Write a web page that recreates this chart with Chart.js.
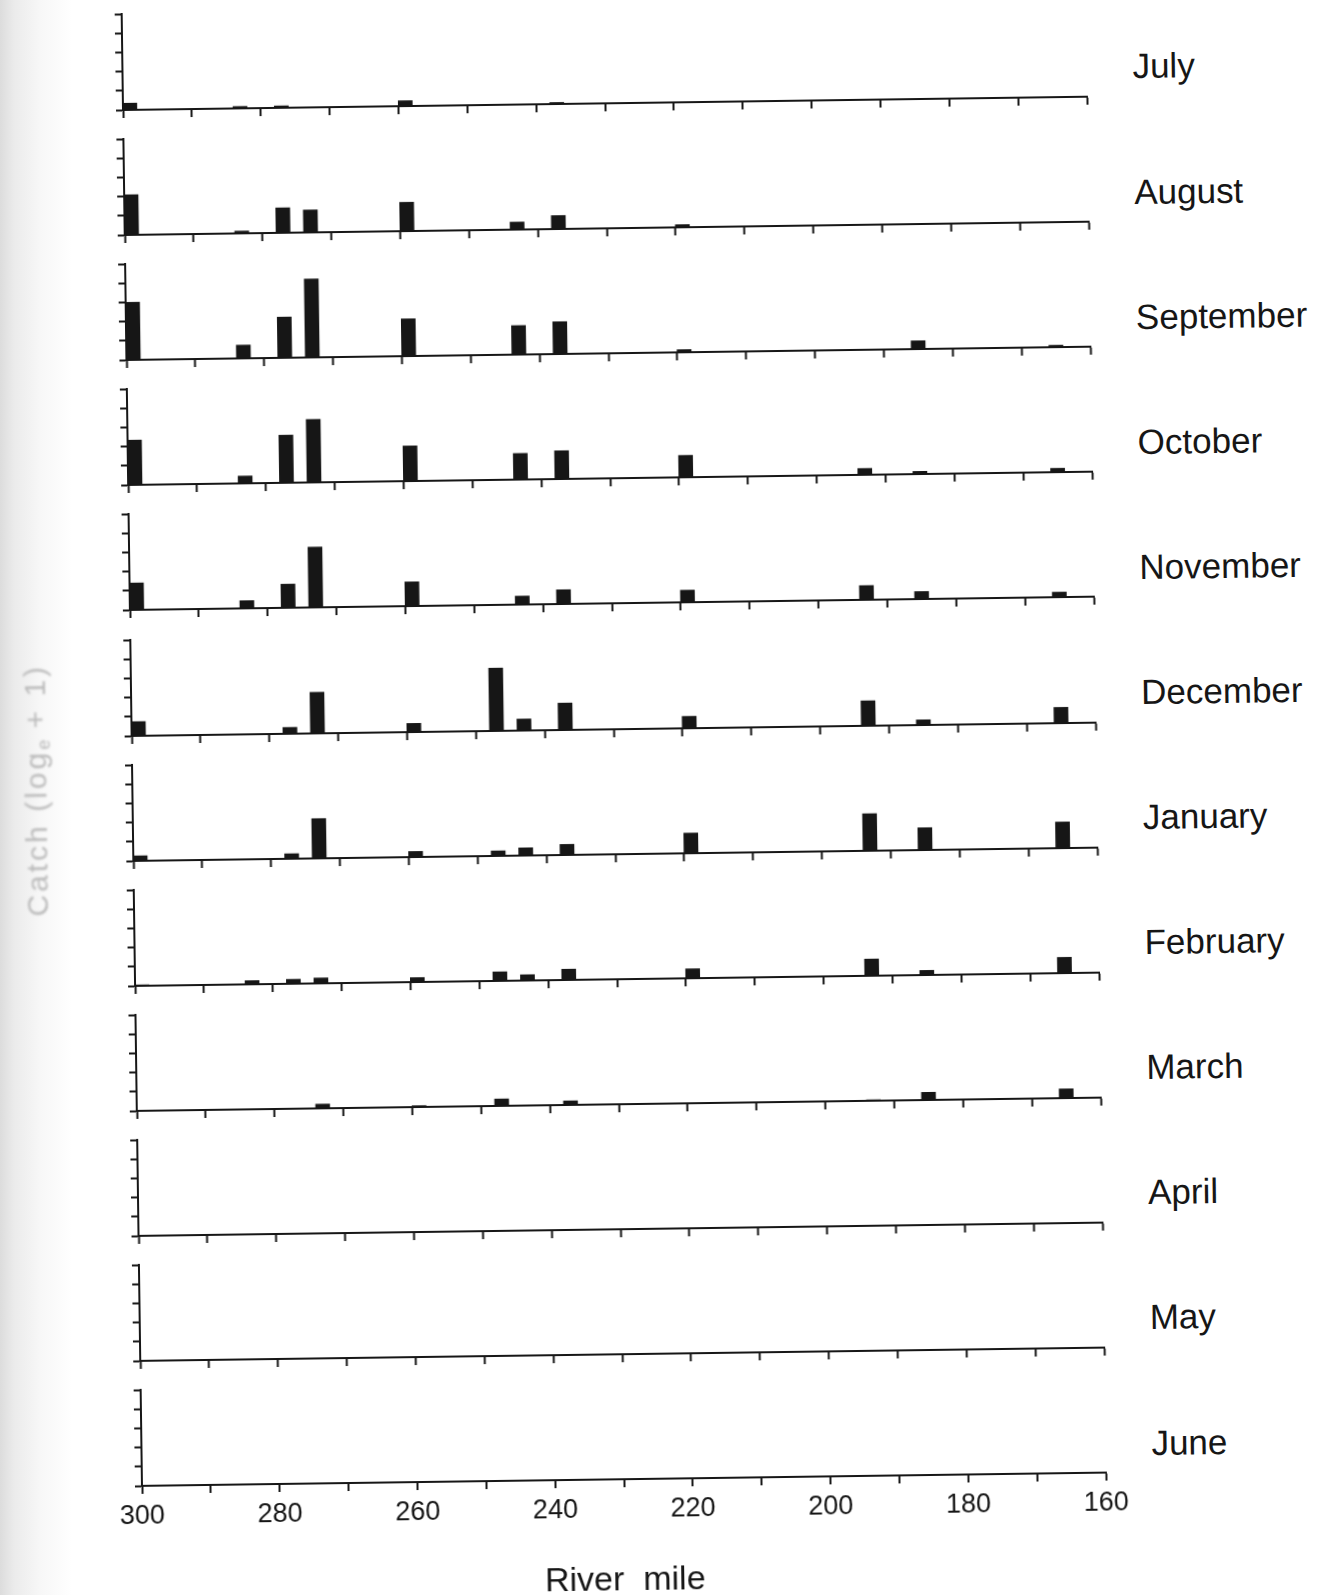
<!DOCTYPE html>
<html>
<head>
<meta charset="utf-8">
<script src="https://cdn.jsdelivr.net/npm/chart.js@4.4.1/dist/chart.umd.min.js"></script>
<style>
  html, body { margin: 0; padding: 0; }
  body {
    width: 1323px; height: 1595px; position: relative; overflow: hidden;
    background: linear-gradient(to right, #dcdcdc 0px, #ebebeb 14px, #f7f7f7 40px, #ffffff 72px);
  }
  #sheet {
    position: absolute; left: 0; top: 0; width: 1323px; height: 1595px;
    transform-origin: 123px 110px; transform: rotate(-0.79deg);
  }
  #sheet canvas { position: absolute; }
  .month {
    position: absolute; white-space: nowrap; color: #161616;
    font-family: 'Liberation Sans', Arial, sans-serif; font-size: 35px; line-height: 35px;
  }
  #ytitle {
    position: absolute; width: 320px; height: 40px; line-height: 40px; text-align: center;
    transform: rotate(-90deg); white-space: nowrap;
    font-family: 'Liberation Sans', Arial, sans-serif; font-size: 30px; letter-spacing: 3px;
    color: #bababa; filter: blur(0.8px);
  }
  #ytitle sub { font-size: 60%; vertical-align: -4px; letter-spacing: 0; }
</style>
</head>
<body>
<div id="sheet">
  <div id="ytitle">Catch (log<sub>e</sub> + 1)</div>
</div>
<script>
// Sampling stations along the river (river mile)
const riverMiles = [299, 283, 277, 273, 259, 247, 243, 237, 219, 193, 185, 165];

const monthNames = ['July', 'August', 'September', 'October', 'November', 'December',
                    'January', 'February', 'March', 'April', 'May', 'June'];

// Catch (log_e + 1) at each station, one array per month
const catchJuly      = [0.35, 0.10, 0.10, 0.00, 0.28, 0.00, 0.00, 0.08, 0.00, 0.00, 0.00, 0.00];
const catchAugust    = [2.09, 0.12, 1.30, 1.17, 1.50, 0.00, 0.39, 0.70, 0.14, 0.00, 0.00, 0.00];
const catchSeptember = [3.00, 0.69, 2.12, 4.08, 1.94, 0.00, 1.51, 1.68, 0.14, 0.00, 0.43, 0.10];
const catchOctober   = [2.33, 0.38, 2.48, 3.28, 1.83, 0.00, 1.36, 1.47, 1.14, 0.33, 0.14, 0.20];
const catchNovember  = [1.40, 0.40, 1.23, 3.14, 1.26, 0.00, 0.44, 0.74, 0.63, 0.74, 0.39, 0.26];
const catchDecember  = [0.74, 0.00, 0.33, 2.14, 0.45, 3.27, 0.60, 1.40, 0.62, 1.30, 0.27, 0.82];
const catchJanuary   = [0.26, 0.00, 0.26, 2.07, 0.29, 0.26, 0.40, 0.55, 1.05, 1.93, 1.16, 1.36];
const catchFebruary  = [0.05, 0.19, 0.23, 0.28, 0.23, 0.47, 0.30, 0.56, 0.49, 0.87, 0.24, 0.82];
const catchMarch     = [0.00, 0.00, 0.00, 0.22, 0.07, 0.36, 0.03, 0.21, 0.02, 0.05, 0.40, 0.48];
const catchApril     = [0, 0, 0, 0, 0, 0, 0, 0, 0, 0, 0, 0];
const catchMay       = [0, 0, 0, 0, 0, 0, 0, 0, 0, 0, 0, 0];
const catchJune      = [0, 0, 0, 0, 0, 0, 0, 0, 0, 0, 0, 0];

const monthlyCatch = [catchJuly, catchAugust, catchSeptember, catchOctober, catchNovember,
                      catchDecember, catchJanuary, catchFebruary, catchMarch, catchApril,
                      catchMay, catchJune];

// Axis ranges
const mileMin = 160, mileMax = 300, mileStep = 10, mileLabelStep = 20;
const catchMin = 0, catchMax = 5, catchStep = 1;

// Panel geometry
const AXIS_LEFT = 123, FIRST_BASE = 110, PANEL_STEP = 125.1;
const PLOT_W = 964, PLOT_H = 96;
const PAD_L = 30, PAD_R = 30, PAD_T = 8, Y_AXIS_W = 12;
const X_AXIS_H = 12, LAST_X_AXIS_H = 125;
const INK = '#161616';
const SANS = "'Liberation Sans', Arial, sans-serif";
const NARROW = "'Liberation Sans Narrow', 'Liberation Sans', Arial, sans-serif";

const sheet = document.getElementById('sheet');

function panelOptions(isLast) {
  return {
    responsive: false,
    animation: false,
    events: [],
    layout: { padding: { left: PAD_L, right: PAD_R, top: PAD_T, bottom: 0 } },
    plugins: { legend: { display: false }, tooltip: { enabled: false } },
    scales: {
      x: {
        type: 'linear', min: mileMin, max: mileMax, reverse: true, offset: false,
        afterFit(scale) { scale.height = isLast ? LAST_X_AXIS_H : X_AXIS_H; },
        ticks: {
          stepSize: mileStep, autoSkip: false, maxRotation: 0, display: isLast,
          padding: 6, color: INK, font: { family: NARROW, size: 27 },
          callback: v => (v % mileLabelStep === 0 ? String(v) : '')
        },
        grid: { display: true, offset: false, drawOnChartArea: false, drawTicks: true,
                tickLength: 8, tickWidth: 2, tickColor: INK },
        border: { display: true, color: INK, width: 2 },
        title: { display: isLast, text: 'River  mile', color: INK,
                 font: { family: SANS, size: 34 }, padding: { top: 0, bottom: 3 } }
      },
      y: {
        min: catchMin, max: catchMax,
        afterFit(scale) { scale.width = Y_AXIS_W; },
        ticks: { stepSize: catchStep, display: false },
        grid: { display: true, offset: false, drawOnChartArea: false, drawTicks: true,
                tickLength: 7, tickWidth: 2, tickColor: INK },
        border: { display: true, color: INK, width: 2 }
      }
    }
  };
}

monthNames.forEach((name, i) => {
  const isLast = i === monthNames.length - 1;
  const base = FIRST_BASE + i * PANEL_STEP;
  const xh = isLast ? LAST_X_AXIS_H : X_AXIS_H;

  const canvas = document.createElement('canvas');
  const w = PAD_L + Y_AXIS_W + PLOT_W + PAD_R;
  const h = PAD_T + PLOT_H + xh;
  canvas.width = w; canvas.height = h;
  canvas.style.width = w + 'px'; canvas.style.height = h + 'px';
  canvas.style.left = (AXIS_LEFT - PAD_L - Y_AXIS_W) + 'px';
  canvas.style.top = Math.round(base - PLOT_H - PAD_T) + 'px';
  sheet.appendChild(canvas);

  const values = monthlyCatch[i];
  const points = riverMiles.map((m, k) => ({ x: m, y: values[k] })).filter(p => p.y > 0);

  new Chart(canvas, {
    type: 'bar',
    data: {
      datasets: [{
        label: name,
        data: points,
        backgroundColor: INK,
        borderWidth: 0,
        barThickness: 14,
        clip: false
      }]
    },
    options: panelOptions(isLast)
  });

  const label = document.createElement('div');
  label.className = 'month';
  label.textContent = name;
  label.style.left = (AXIS_LEFT + 1010) + 'px';
  label.style.top = Math.round(base - 18 - 29.6) + 'px';
  sheet.appendChild(label);
});

// Shared y-axis title, centred beside the stack of panels
const yt = document.getElementById('ytitle');
yt.style.left = (27 - 160) + 'px';
yt.style.top = (789 - 20) + 'px';
</script>
</body>
</html>
